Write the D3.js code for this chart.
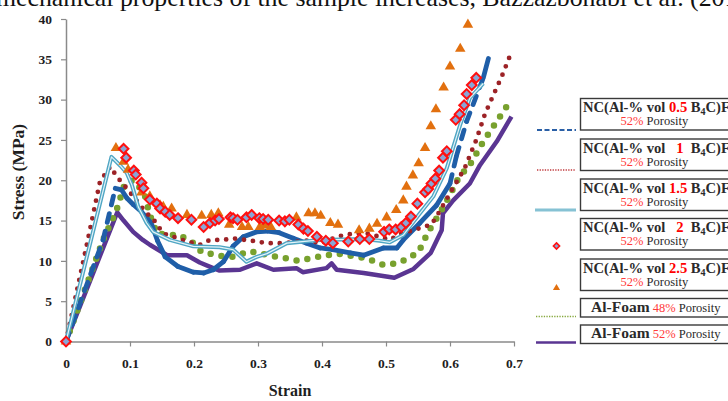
<!DOCTYPE html>
<html>
<head>
<meta charset="utf-8">
<script src="https://cdn.jsdelivr.net/npm/d3@7"></script>
<style>
  body { margin: 0; background: #fff; }
  svg { display: block; }
</style>
</head>
<body>
<div id="vis"></div>
<script>
// stress-strain curves, [strain, stress MPa]
const nc05 = [[0,0],[0.058,12.6],[0.077,19.0],[0.087,18.8],[0.095,17.8],[0.105,17.0],[0.118,16.1],[0.133,14.7],
  [0.143,12.5],[0.155,10.5],[0.175,9.3],[0.199,8.6],[0.215,8.5],[0.23,8.9],[0.246,9.9],[0.261,11.8],[0.277,13.0],
  [0.298,13.6],[0.315,13.7],[0.333,13.5],[0.355,12.8],[0.376,12.2],[0.397,11.6],[0.417,11.4],[0.444,11.0],[0.465,10.7],[0.496,11.6],
  [0.517,11.6],[0.527,12.6],[0.553,14.7],[0.579,16.9],[0.6,19.6],[0.61,23.0],[0.626,27.3],[0.652,32.7],[0.66,35.1]];

const nc1 = [[0,0],[0.032,11.8],[0.053,19.8],[0.069,21.7],[0.08,20.4],[0.095,19.0],[0.11,17.5],[0.125,16.0],
  [0.137,15.1],[0.152,13.4],[0.168,13.0],[0.189,12.4],[0.209,12.0],[0.225,12.6],[0.245,12.6],[0.261,12.8],
  [0.29,12.5],[0.314,12.2],[0.34,12.2],[0.376,12.5],[0.4,12.2],[0.423,13.0],[0.449,13.4],[0.47,13.4],[0.49,13.0],
  [0.506,12.6],[0.524,13.4],[0.543,13.8],[0.558,14.2],[0.571,14.5],[0.582,15.9],[0.6,18.4],[0.623,21.5],
  [0.641,25.0],[0.655,28.3],[0.668,30.6],[0.681,32.9],[0.696,35.9]];

const nc15 = [[0,0],[0.071,22.9],[0.085,21.8],[0.095,20.9],[0.103,19.4],[0.113,16.7],[0.126,14.7],[0.136,13.6],
  [0.162,12.6],[0.199,11.8],[0.24,11.7],[0.261,11.4],[0.282,9.9],[0.298,10.5],[0.314,10.9],[0.345,12.2],
  [0.397,12.6],[0.465,12.7],[0.49,12.5],[0.506,12.3],[0.527,13.2],[0.553,15.9],[0.574,18.0],[0.595,21.5],
  [0.616,26.9],[0.631,30.2],[0.652,32.0]];

const nc2 = [[0,0],[0.09,23.9],[0.094,22.8],[0.106,21.2],[0.109,20.7],[0.118,19.7],[0.121,19.0],[0.131,17.6],
  [0.142,17.1],[0.147,16.5],[0.155,16.1],[0.162,15.7],[0.175,15.3],[0.196,15.1],[0.215,14.2],[0.225,14.7],
  [0.233,15.0],[0.239,15.2],[0.257,15.4],[0.261,15.3],[0.268,15.1],[0.282,15.4],[0.29,15.7],[0.302,15.3],
  [0.308,15.2],[0.316,15.1],[0.333,15.0],[0.342,14.9],[0.349,15.1],[0.363,14.5],[0.371,14.0],[0.378,13.7],
  [0.392,13.0],[0.406,12.5],[0.417,12.2],[0.441,12.4],[0.459,12.7],[0.474,12.7],[0.497,13.6],[0.505,13.9],
  [0.515,13.9],[0.524,14.2],[0.531,14.7],[0.539,15.5],[0.549,17.1],[0.561,18.5],[0.566,18.9],[0.571,19.6],
  [0.577,20.2],[0.583,21.2],[0.589,22.8],[0.595,23.6],[0.609,27.5],[0.615,28.2],[0.622,29.3],[0.626,30.7],
  [0.634,31.8],[0.641,32.7]];

const nc25 = [[0,0],[0.078,24.0],[0.09,22.3],[0.097,21.3],[0.118,18.5],[0.131,18.0],[0.147,16.9],[0.152,16.7],
  [0.165,16.5],[0.189,15.7],[0.212,15.6],[0.227,15.7],[0.238,15.9],[0.255,14.5],[0.275,14.2],[0.285,14.2],
  [0.303,14.2],[0.31,14.4],[0.32,14.2],[0.36,15.4],[0.379,15.9],[0.389,15.9],[0.398,15.6],[0.413,14.7],
  [0.425,14.5],[0.458,13.8],[0.474,14.0],[0.486,14.6],[0.501,15.4],[0.516,16.3],[0.527,17.5],[0.532,19.2],
  [0.542,20.6],[0.551,22.1],[0.561,24.0],[0.57,26.7],[0.578,28.8],[0.59,31.5],[0.6,34.1],[0.616,36.3],[0.628,39.3]];

const foam48 = [[0,0],[0.058,12.6],[0.079,16.3],[0.092,19.6],[0.105,20.0],[0.116,19.0],[0.123,18.2],[0.131,15.7],
  [0.142,13.4],[0.162,13.2],[0.178,13.2],[0.199,12.2],[0.212,11.1],[0.243,10.6],[0.261,10.5],[0.287,11.2],
  [0.316,10.7],[0.345,10.3],[0.363,10.0],[0.381,10.3],[0.407,10.7],[0.425,10.9],[0.47,10.3],[0.496,9.5],
  [0.517,9.7],[0.532,10.2],[0.551,11.1],[0.566,13.6],[0.584,15.9],[0.6,18.2],[0.614,20.4],[0.631,21.9],
  [0.652,24.8],[0.673,27.3],[0.694,29.8]];

const foam52 = [[0,0],[0.08,16.0],[0.09,15.0],[0.105,13.6],[0.12,12.6],[0.131,12.0],[0.158,10.7],[0.189,10.7],
  [0.209,9.8],[0.23,9.1],[0.24,8.8],[0.272,8.9],[0.298,9.7],[0.324,8.9],[0.36,9.1],[0.37,8.6],[0.407,9.1],[0.415,9.7],
  [0.423,8.9],[0.465,8.5],[0.513,7.9],[0.543,9.0],[0.57,11.0],[0.587,13.8],[0.589,15.9],[0.605,17.5],
  [0.631,19.6],[0.647,21.9],[0.673,24.8],[0.696,27.9]];

const xTicks = [0, 0.1, 0.2, 0.3, 0.4, 0.5, 0.6, 0.7];
const yTicks = [0, 5, 10, 15, 20, 25, 30, 35, 40];
const ncAmounts = ["0.5", "1", "1.5", "2", "2.5"];
const foamPorosity = ["48%", "52%"];

const width = 728, height = 401;
const serif = "'Liberation Serif', 'Times New Roman', serif";

const svg = d3.select('#vis').append('svg')
  .attr('width', width)
  .attr('height', height)
  .style('font-family', serif);

// bit of the page text above the figure, cut off
svg.append('text')
  .attr('x', -4).attr('y', 6)
  .attr('font-size', 25.8)
  .style('fill', '#111')
  .text('mechanical properties of the sample increases, Bazzazbonabi et al. (2017)');

const x = d3.scaleLinear().domain([0, 0.7]).range([66, 514]);
const y = d3.scaleLinear().domain([0, 40]).range([341.5, 19]);

const xAxis = svg.append('g')
  .attr('transform', `translate(0,${y(0)})`)
  .call(d3.axisBottom(x).tickValues(xTicks).tickSize(5).tickSizeOuter(0).tickPadding(12).tickFormat(d => d));
const yAxis = svg.append('g')
  .attr('transform', `translate(${x(0)},0)`)
  .call(d3.axisLeft(y).tickValues(yTicks).tickSize(5).tickSizeOuter(0).tickPadding(9));

[xAxis, yAxis].forEach(g => {
  g.attr('font-family', serif);
  g.select('.domain').attr('stroke', '#8a8a8a').attr('stroke-width', 1.5);
  g.selectAll('.tick line').attr('stroke', '#8a8a8a').attr('stroke-width', 1.2);
  g.selectAll('.tick text')
    .attr('font-family', serif)
    .attr('font-size', 13.5)
    .attr('font-weight', 'bold')
    .style('fill', '#1e1e1e');
});

svg.append('text')
  .attr('x', 290).attr('y', 396)
  .attr('text-anchor', 'middle')
  .attr('font-size', 16).attr('font-weight', 'bold')
  .style('fill', '#1e1e1e')
  .text('Strain');

svg.append('text')
  .attr('transform', 'translate(24,172) rotate(-90)')
  .attr('text-anchor', 'middle')
  .attr('font-size', 17.5).attr('font-weight', 'bold')
  .style('fill', '#1e1e1e')
  .text('Stress (MPa)');

const line = d3.line().x(d => x(d[0])).y(d => y(d[1]));

// Al-Foam 52%
svg.append('path').attr('d', line(foam52))
  .attr('fill', 'none').attr('stroke', '#5a3592').attr('stroke-width', 4.5)
  .attr('stroke-linejoin', 'round');

// Al-Foam 48%, big round dots
svg.append('path').attr('d', line(foam48))
  .attr('fill', 'none').attr('stroke', '#78a12e').attr('stroke-width', 6.5)
  .attr('stroke-linecap', 'round').attr('stroke-dasharray', '0,11');

// 0.5 B4C: thick dashed; dashes restart per segment (Excel style) so dense parts look solid
const segLen = s => Math.hypot(x(s[1][0]) - x(s[0][0]), y(s[1][1]) - y(s[0][1]));
svg.append('g').selectAll('path')
  .data(d3.pairs(nc05))
  .join('path')
  .attr('d', d => line(d))
  .attr('fill', 'none').attr('stroke', '#1f5ea8').attr('stroke-width', 4.8)
  .attr('stroke-linecap', 'round')
  .attr('stroke-dasharray', d => segLen(d) > 26 ? '9,9' : null);

// 1 B4C, small dark red dots
svg.append('path').attr('d', line(nc1))
  .attr('fill', 'none').attr('stroke', '#9c2226').attr('stroke-width', 4.8)
  .attr('stroke-linecap', 'round').attr('stroke-dasharray', '0,9');

// 1.5 B4C, light blue double line
svg.append('path').attr('d', line(nc15))
  .attr('fill', 'none').attr('stroke', '#4fa6c4').attr('stroke-width', 4)
  .attr('stroke-linejoin', 'round');
svg.append('path').attr('d', line(nc15))
  .attr('fill', 'none').attr('stroke', '#e4f3f8').attr('stroke-width', 1.2)
  .attr('stroke-linejoin', 'round');

const tri = d3.symbol().type(d3.symbolTriangle).size(48);
const dia = d3.symbol().type(d3.symbolDiamond2).size(60);

svg.append('g').selectAll('path')
  .data(nc25)
  .join('path')
  .attr('transform', d => `translate(${x(d[0])},${y(d[1])})`)
  .attr('d', tri)
  .attr('fill', '#e2700f');

svg.append('g').selectAll('path')
  .data(nc2)
  .join('path')
  .attr('transform', d => `translate(${x(d[0])},${y(d[1])})`)
  .attr('d', dia)
  .attr('fill', '#8aa5d6').attr('stroke', '#ff1010').attr('stroke-width', 2);

// legend
const legendRows = [
  { top: 98.5, h: 31.5, kind: 'dash', ly: 130 },
  { top: 139, h: 31.5, kind: 'dot', ly: 170 },
  { top: 179, h: 31.5, kind: 'double', ly: 210 },
  { top: 218.5, h: 31.5, kind: 'diamond', ly: 246 },
  { top: 259, h: 31.5, kind: 'tri', ly: 288 },
  { top: 298.5, h: 18.5, kind: 'green', ly: 316.5 },
  { top: 325, h: 18.5, kind: 'purple', ly: 342.5 }
];

const legend = svg.append('g');
legendRows.forEach((r, i) => {
  legend.append('rect')
    .attr('x', 580.5).attr('y', r.top)
    .attr('width', 220).attr('height', r.h)
    .attr('fill', '#fff').attr('stroke', '#3a3a3a').attr('stroke-width', 1.4);

  const lx1 = 537, lx2 = 576;
  if (r.kind === 'dash') {
    legend.append('line').attr('x1', lx1).attr('x2', lx2).attr('y1', r.ly).attr('y2', r.ly)
      .attr('stroke', '#2a5fa6').attr('stroke-width', 2.2).attr('stroke-dasharray', '5,2.5');
  } else if (r.kind === 'dot') {
    legend.append('line').attr('x1', lx1).attr('x2', lx2).attr('y1', r.ly).attr('y2', r.ly)
      .attr('stroke', '#c0393c').attr('stroke-width', 1.3).attr('stroke-dasharray', '1.3,1.3');
  } else if (r.kind === 'double') {
    legend.append('line').attr('x1', lx1 - 2).attr('x2', lx2).attr('y1', r.ly).attr('y2', r.ly)
      .attr('stroke', '#86c2d4').attr('stroke-width', 3);
  } else if (r.kind === 'diamond') {
    legend.append('path').attr('transform', `translate(556.5,${r.ly})`)
      .attr('d', d3.symbol().type(d3.symbolDiamond2).size(24))
      .attr('fill', '#8aa5d6').attr('stroke', '#ff1010').attr('stroke-width', 1.6);
  } else if (r.kind === 'tri') {
    legend.append('path').attr('transform', `translate(556.5,${r.ly})`)
      .attr('d', d3.symbol().type(d3.symbolTriangle).size(22))
      .attr('fill', '#e2700f');
  } else if (r.kind === 'green') {
    legend.append('line').attr('x1', lx1 - 1).attr('x2', lx2).attr('y1', r.ly).attr('y2', r.ly)
      .attr('stroke', '#86a83e').attr('stroke-width', 1.3).attr('stroke-dasharray', '1.3,1.3');
  } else {
    legend.append('line').attr('x1', lx1 - 1).attr('x2', lx2).attr('y1', r.ly).attr('y2', r.ly)
      .attr('stroke', '#5a3592').attr('stroke-width', 2.4);
  }

  if (i < ncAmounts.length) {
    const amt = ncAmounts[i];
    const shown = amt.length === 1 ? `  ${amt} ` : amt;
    const t = legend.append('text')
      .attr('x', 583).attr('y', r.top + 13.5)
      .attr('font-size', 14.6).attr('font-weight', 'bold')
      .style('white-space', 'pre')
      .style('fill', '#2a2a2a');
    t.append('tspan').text('NC(Al-% vol ');
    t.append('tspan').style('fill', '#ff0000').text(shown);
    t.append('tspan').text(' B');
    t.append('tspan').attr('font-size', 10).attr('dy', 3).text('4');
    t.append('tspan').attr('dy', -3).text('C)Foam');

    const t2 = legend.append('text')
      .attr('x', 620.5).attr('y', r.top + 26.5)
      .attr('font-size', 12.5)
      .style('fill', '#2a2a2a');
    t2.append('tspan').style('fill', '#ff3a3a').text('52%');
    t2.append('tspan').text(' Porosity');
  } else {
    const t = legend.append('text')
      .attr('x', 591).attr('y', r.top + 13)
      .attr('font-size', 15.5).attr('font-weight', 'bold')
      .style('fill', '#2a2a2a');
    t.append('tspan').text('Al-Foam');
    t.append('tspan').attr('font-size', 12.5).attr('font-weight', 'normal')
      .style('fill', '#ff3a3a').text(' ' + foamPorosity[i - ncAmounts.length]);
    t.append('tspan').attr('font-size', 12.5).attr('font-weight', 'normal').text(' Porosity');
  }
});
</script>
</body>
</html>
